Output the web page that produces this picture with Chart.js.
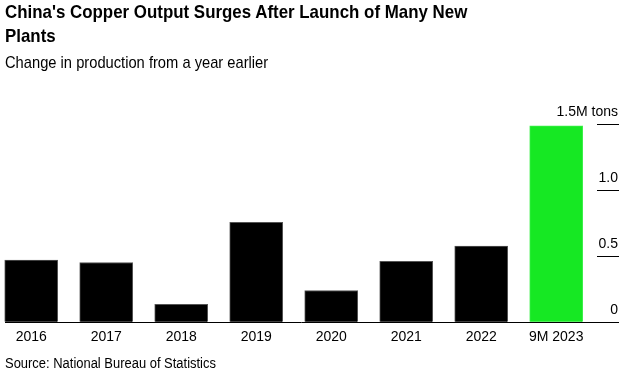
<!DOCTYPE html>
<html>
<head>
<meta charset="utf-8">
<script src="https://cdn.jsdelivr.net/npm/chart.js@4/dist/chart.umd.min.js"></script>
<style>
  html, body { margin: 0; padding: 0; background: #fff; }
  #wrap { position: relative; width: 626px; height: 371px; overflow: hidden; }
  #c { position: absolute; left: 0; top: 0; }
  .t { position: absolute; left: 5px; white-space: nowrap; color: #000; transform-origin: 0 0; }
  #title { top: 0px; font: bold 19px "Liberation Sans", Arial, sans-serif; line-height: 24px; transform: scaleX(0.889); }
  #sub { top: 53px; font: 17px "Liberation Sans", Arial, sans-serif; line-height: 20px; transform: scaleX(0.865); }
  #src { top: 355px; font: 14px "Liberation Sans", Arial, sans-serif; line-height: 16px; transform: scaleX(0.925); }
</style>
</head>
<body>
<div id="wrap">
  <canvas id="c" width="626" height="371"></canvas>
  <div class="t" id="title">China's Copper Output Surges After Launch of Many New<br>Plants</div>
  <div class="t" id="sub">Change in production from a year earlier</div>
  <div class="t" id="src">Source: National Bureau of Statistics</div>
</div>
<script>
const categories = ["2016", "2017", "2018", "2019", "2020", "2021", "2022", "9M 2023"];
const values = [0.47, 0.452, 0.136, 0.755, 0.24, 0.46, 0.576, 1.487];
const barColors = ["#000000", "#000000", "#000000", "#000000", "#000000", "#000000", "#000000", "#16e823"];
const yTicks = [0, 0.5, 1.0, 1.5];
const yTickLabels = ["0", "0.5", "1.0", "1.5M tons"];

const ctx = document.getElementById('c').getContext('2d');
new Chart(ctx, {
  type: 'bar',
  data: {
    datasets: [{
      data: values.map((v, i) => ({ x: i, y: v })),
      backgroundColor: barColors,
      borderColor: barColors.map(c => c === "#000000" ? "#555555" : "#3df04a"),
      borderWidth: { top: 1, left: 1, right: 1, bottom: 0 },
      borderSkipped: 'bottom',
      barThickness: 53,
      clip: false
    }]
  },
  options: {
    responsive: false,
    animation: false,
    devicePixelRatio: 1,
    layout: { padding: { top: 124, left: 5, right: 7, bottom: 18 } },
    plugins: { legend: { display: false }, tooltip: { enabled: false }, title: { display: false } },
    scales: {
      x: {
        type: 'linear',
        offset: false,
        bounds: 'data',
        min: -0.3493,
        max: 7.544,
        grid: { display: false, drawTicks: false, offset: false },
        border: { display: true, color: '#000000', width: 1 },
        afterBuildTicks: (scale) => { scale.ticks = categories.map((c, i) => ({ value: i })); },
        afterFit: (scale) => { scale.paddingLeft = 0; scale.paddingRight = 0; },
        ticks: {
          autoSkip: false,
          maxRotation: 0,
          minRotation: 0,
          padding: 7,
          color: '#000000',
          font: { family: '"Liberation Sans", Arial, sans-serif', size: 14 },
          callback: (v) => categories[Math.round(v)] ?? ''
        }
      },
      y: {
        position: 'right',
        min: 0,
        max: 1.5,
        afterBuildTicks: (scale) => { scale.ticks = yTicks.map(v => ({ value: v })); },
        afterFit: (scale) => { scale.width = 22; scale.paddingTop = 0; scale.paddingBottom = 0; },
        border: { display: false },
        grid: { drawOnChartArea: false, drawTicks: true, tickLength: 22, color: '#000000', lineWidth: 1 },
        ticks: {
          mirror: true,
          padding: 21,
          labelOffset: -12,
          color: '#000000',
          font: { family: '"Liberation Sans", Arial, sans-serif', size: 14 },
          callback: (v) => { const i = yTicks.indexOf(v); return i >= 0 ? yTickLabels[i] : ''; }
        }
      }
    }
  }
});
</script>
</body>
</html>
